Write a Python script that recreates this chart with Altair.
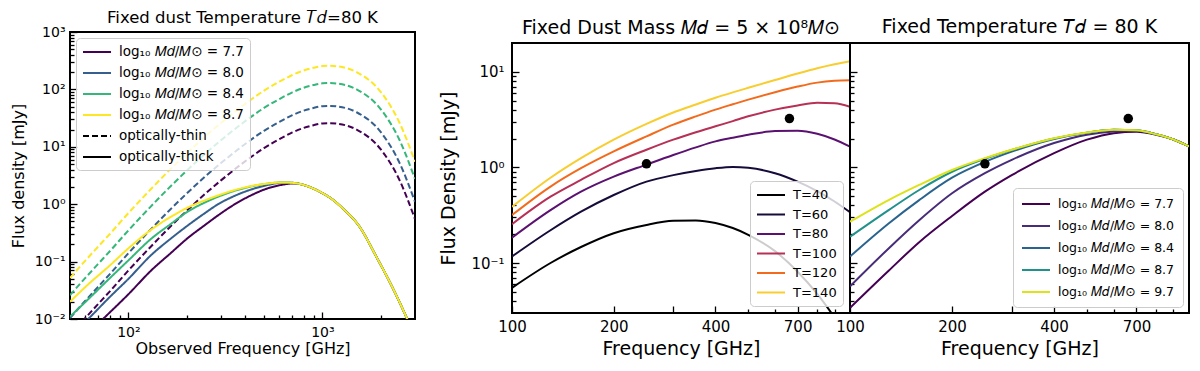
import json
import altair as alt
import pandas as pd

FONT = "DejaVu Sans"

# ---------------- Panel 1 : fixed dust temperature 80 K ----------------
P1_MASSES = ["7.7", "8.0", "8.4", "8.7"]
P1_COLORS = ["#440154", "#355f8d", "#35b779", "#fde725"]
P1_STYLE_NAMES = ["optically-thin", "optically-thick"]

THIN_FREQ = [50, 60, 70, 80, 100, 130, 160, 200, 250, 300, 400, 500, 600, 700, 800, 900,
             1000, 1100, 1200, 1500, 2000, 2500, 3000]
THIN_77 = [0.0052, 0.0104, 0.0184, 0.030, 0.070, 0.18, 0.37, 0.77, 1.54, 2.6, 5.6, 9.5, 13.6,
           17.8, 21.3, 23.8, 25.5, 25.8, 25.2, 20.0, 9.0, 2.6, 0.55]
THIN_80 = [0.0104, 0.0208, 0.0368, 0.060, 0.14, 0.36, 0.74, 1.54, 3.08, 5.2, 11.2, 19.0, 27.2,
           35.6, 42.6, 47.6, 51.0, 51.6, 50.4, 40.0, 18.0, 5.2, 1.1]
THIN_84 = [0.026, 0.052, 0.092, 0.15, 0.35, 0.90, 1.85, 3.85, 7.7, 13.0, 28.0, 47.5, 68.0,
           89.0, 106.5, 119.0, 127.5, 129.0, 126.0, 100.0, 45.0, 13.0, 2.75]
THIN_87 = [0.052, 0.104, 0.184, 0.30, 0.70, 1.80, 3.7, 7.7, 15.4, 26.0, 56.0, 95.0, 136.0,
           178.0, 213.0, 238.0, 255.0, 258.0, 252.0, 200.0, 90.0, 26.0, 5.5]

THICK_FREQ_77 = [65, 74, 100, 131, 165, 203, 245, 290, 350, 433, 520, 620, 700, 780, 850, 1000,
                 1130, 1270, 1550, 1900, 2300, 2700, 2900]
THICK_77 = [0.0065, 0.010, 0.027, 0.070, 0.14, 0.26, 0.42, 0.64, 0.98, 1.45, 1.88, 2.18, 2.30,
            2.22, 2.02, 1.56, 1.20, 0.85, 0.41, 0.12, 0.035, 0.011, 0.0063]
THICK_FREQ_80 = [55, 62, 80, 100, 131, 165, 203, 245, 290, 350, 433, 520, 620, 700, 780, 850,
                 1000, 1130, 1270, 1550, 1900, 2300, 2700, 2900]
THICK_80 = [0.0068, 0.010, 0.024, 0.050, 0.13, 0.25, 0.43, 0.68, 1.0, 1.38, 1.82, 2.15, 2.37,
            2.36, 2.22, 2.02, 1.56, 1.20, 0.85, 0.41, 0.12, 0.035, 0.011, 0.0063]
THICK_FREQ_HI = [50, 62, 80, 100, 131, 165, 203, 245, 290, 350, 433, 520, 620, 700, 780, 850,
                 1000, 1130, 1270, 1550, 1900, 2300, 2700, 2900]
THICK_84 = [0.011, 0.022, 0.051, 0.105, 0.25, 0.45, 0.75, 1.05, 1.35, 1.70, 2.05, 2.28, 2.40,
            2.36, 2.22, 2.02, 1.56, 1.20, 0.85, 0.41, 0.12, 0.035, 0.011, 0.0063]
THICK_87 = [0.020, 0.040, 0.085, 0.17, 0.36, 0.60, 0.88, 1.15, 1.42, 1.75, 2.08, 2.29, 2.40,
            2.36, 2.22, 2.02, 1.56, 1.20, 0.85, 0.41, 0.12, 0.035, 0.011, 0.0063]

# ---------------- Panel 2 : fixed dust mass ----------------
P2_TEMPS = ["T=40", "T=60", "T=80", "T=100", "T=120", "T=140"]
P2_COLORS = ["#000004", "#160b39", "#5a1170", "#b73055", "#f26b1d", "#f8cd2f"]
FREQ2 = [100, 130, 160, 200, 250, 300, 350, 400, 450, 500, 600, 700, 800, 900, 1000]
T40 = [0.055, 0.10, 0.147, 0.205, 0.25, 0.276, 0.279, 0.262, 0.232, 0.197, 0.133, 0.081,
       0.0475, 0.027, 0.0157]
T60 = [0.117, 0.22, 0.344, 0.514, 0.71, 0.83, 0.917, 0.98, 1.01, 0.99, 0.87, 0.71, 0.565,
       0.44, 0.34]
T80 = [0.184, 0.357, 0.557, 0.80, 1.07, 1.35, 1.62, 1.87, 2.04, 2.19, 2.40, 2.42, 2.25, 1.96,
       1.65]
T100 = [0.255, 0.494, 0.74, 1.11, 1.53, 1.95, 2.33, 2.69, 3.05, 3.42, 4.02, 4.45, 4.75, 4.68,
        4.3]
T120 = [0.317, 0.63, 0.98, 1.47, 2.11, 2.8, 3.42, 4.02, 4.57, 5.11, 6.11, 7.0, 7.7, 8.05, 8.15]
T140 = [0.387, 0.78, 1.25, 1.95, 2.85, 3.75, 4.55, 5.35, 6.09, 6.8, 8.2, 9.6, 10.9, 12.0, 12.9]

# ---------------- Panel 3 : fixed temperature 80 K ----------------
P3_MASSES = ["7.7", "8.0", "8.4", "8.7", "9.7"]
P3_COLORS = ["#440154", "#472c7a", "#2a648e", "#21918c", "#dde318"]
FREQ3 = [100, 130, 160, 200, 250, 300, 400, 500, 600, 700, 800, 900, 1000]
M77 = [0.034, 0.083, 0.165, 0.31, 0.557, 0.83, 1.41, 1.95, 2.28, 2.36, 2.20, 1.96, 1.66]
M80 = [0.057, 0.142, 0.28, 0.536, 0.87, 1.2, 1.80, 2.2, 2.38, 2.42, 2.22, 1.96, 1.66]
M84 = [0.117, 0.259, 0.455, 0.78, 1.14, 1.46, 1.98, 2.30, 2.47, 2.44, 2.22, 1.96, 1.66]
M87 = [0.188, 0.357, 0.58, 0.90, 1.23, 1.52, 2.01, 2.31, 2.47, 2.44, 2.22, 1.96, 1.66]
M97 = [0.27, 0.455, 0.655, 0.94, 1.25, 1.53, 2.02, 2.32, 2.48, 2.44, 2.22, 1.96, 1.66]

OBS_FREQ = [250, 662]
OBS_FLUX = [1.09, 3.24]

# ---------------- axis ticks ----------------
P1_Y_MAJOR = [0.01, 0.1, 1, 10, 100, 1000]
P1_Y_LABELS = ["10⁻²", "10⁻¹", "10⁰", "10¹", "10²", "10³"]
P1_Y_TICKS = [round(m * d, 6) for d in [0.01, 0.1, 1, 10, 100] for m in range(1, 10)] + [1000]
P1_X_MAJOR = [100, 1000]
P1_X_LABELS = ["10²", "10³"]
P1_X_TICKS = [60, 70, 80, 90, 100, 200, 300, 400, 500, 600, 700, 800, 900, 1000, 2000]

P23_X_LONG = [100, 200, 300, 400, 700]
P23_X_LABEL_VALUES = [100, 200, 400, 700]
P23_X_LABELS = ["100", "200", "400", "700"]
P23_X_TICKS = [100, 200, 300, 400, 500, 600, 700, 800, 900]
P23_Y_MAJOR = [0.1, 1, 10]
P23_Y_LABELS = ["10⁻¹", "10⁰", "10¹"]
P23_Y_TICKS = [round(m * d, 6) for d in [0.01, 0.1, 1] for m in range(1, 10) if m * d >= 0.04] + [10]

MAJOR_LEN = 7
MINOR_LEN = 4


def label_expr(vals, labels):
    s = "''"
    for v, lab in zip(reversed(vals), reversed(labels)):
        s = f"datum.value == {v} ? '{lab}' : {s}"
    return s


def make_axis(ticks, long_ticks, lab_vals, lab_text, title, label_size,
              title_size, label_pad, title_pad, show_labels=True):
    # negative tick size -> ticks point into the plot (matplotlib "in" direction)
    size_expr = (f"indexof({json.dumps(long_ticks)}, datum.value) >= 0 ? "
                 f"{-MAJOR_LEN} : {-MINOR_LEN}")
    kw = dict(
        values=ticks, tickSize=alt.ExprRef(size_expr), ticks=True, domain=False, grid=False,
        labels=show_labels, labelExpr=label_expr(lab_vals, lab_text), labelFont=FONT,
        labelFontSize=label_size, labelColor="black", labelPadding=label_pad + MAJOR_LEN,
        labelOverlap=False, labelFlush=False,
        titleFont=FONT, titleFontSize=title_size, titleFontWeight="normal",
        titleColor="black", titlePadding=title_pad, tickColor="black", tickWidth=1.3,
    )
    kw["title"] = title
    return alt.Axis(**kw)


def rows(freqs, vals, key, name):
    return [{"f": f, "v": v, key: name} for f, v in zip(freqs, vals)]


LINE_SYMBOL = "M-1,0L3,0"   # a 28 px stroke whose row height stays 14 px


def legend(orient, size, row_pad, pad, offset, label_offset):
    return alt.Legend(title=None, orient=orient, offset=offset,
                      fillColor="rgba(255,255,255,0.8)", strokeColor="#cccccc",
                      cornerRadius=4, padding=pad, labelFont=FONT, labelFontSize=size,
                      labelColor="black", symbolType=LINE_SYMBOL, symbolSize=196,
                      symbolStrokeWidth=2, rowPadding=row_pad, labelOffset=label_offset,
                      labelLimit=400)


def mass_label(m):
    return "log₁₀ 𝑀𝑑/𝑀⊙ = " + m


def title(text, size, offset):
    return alt.TitleParams(text=text, font=FONT, fontSize=size, fontWeight="normal",
                           color="black", offset=offset, anchor="middle", frame="group")


# ---------- panel 1 ----------
lab1 = [mass_label(m) for m in P1_MASSES]
thin_rows, thick_rows = [], []
for lab, vals in zip(lab1, [THIN_77, THIN_80, THIN_84, THIN_87]):
    thin_rows += rows(THIN_FREQ, vals, "leg", lab)
for lab, fr, vals in zip(lab1, [THICK_FREQ_77, THICK_FREQ_80, THICK_FREQ_HI, THICK_FREQ_HI],
                         [THICK_77, THICK_80, THICK_84, THICK_87]):
    thick_rows += rows(fr, vals, "leg", lab)
df_thin = pd.DataFrame(thin_rows)
df_thick = pd.DataFrame(thick_rows)

dom1 = lab1 + P1_STYLE_NAMES
col1 = alt.Scale(domain=dom1, range=P1_COLORS + ["black", "black"])
dash1 = alt.Scale(domain=dom1, range=[[1, 0]] * 4 + [[6, 3], [1, 0]])
leg1 = legend("top-left", 13.5, 6, 6, 6, 21)

ax1x = make_axis(P1_X_TICKS, P1_X_MAJOR, P1_X_MAJOR, P1_X_LABELS,
                 "Observed Frequency [GHz]", 14, 16, 6, -2)
ax1y = make_axis(P1_Y_TICKS, P1_Y_MAJOR, P1_Y_MAJOR, P1_Y_LABELS,
                 "Flux density [mJy]", 14, 16, 5, 8)
x1 = alt.X("f:Q", scale=alt.Scale(type="log", domain=[50, 3000], nice=False), axis=ax1x)
y1 = alt.Y("v:Q", scale=alt.Scale(type="log", domain=[0.01, 1000], nice=False), axis=ax1y)

thin_layer = alt.Chart(df_thin).mark_line(
    clip=True, strokeWidth=2, strokeDash=[6, 3], interpolate="monotone"
).encode(x=x1, y=y1, color=alt.Color("leg:N", scale=col1, legend=leg1), detail="leg:N")
thick_layer = alt.Chart(df_thick).mark_line(
    clip=True, strokeWidth=2, interpolate="monotone"
).encode(x=x1, y=y1, color=alt.Color("leg:N", scale=col1, legend=leg1),
         strokeDash=alt.StrokeDash("leg:N", scale=dash1, legend=leg1))

p1 = alt.layer(thin_layer, thick_layer).properties(
    width=345, height=287, title=title("Fixed dust Temperature 𝑇𝑑=80 K", 16.5, -1))

# ---------- panel 2 ----------
p2_rows = []
for lab, vals in zip(P2_TEMPS, [T40, T60, T80, T100, T120, T140]):
    p2_rows += rows(FREQ2, vals, "temp", lab)
df2 = pd.DataFrame(p2_rows)
df_obs = pd.DataFrame({"f": OBS_FREQ, "v": OBS_FLUX})

ax2x = make_axis(P23_X_TICKS, P23_X_LONG, P23_X_LABEL_VALUES, P23_X_LABELS,
                 "Frequency [GHz]", 15, 19, 6, 2)
ax2y = make_axis(P23_Y_TICKS, P23_Y_MAJOR, P23_Y_MAJOR, P23_Y_LABELS,
                 "Flux Density [mJy]", 15, 19, 8, 12)
xs23 = alt.Scale(type="log", domain=[100, 1000], nice=False)
ys23 = alt.Scale(type="log", domain=[0.03, 20], nice=False)
x2 = alt.X("f:Q", scale=xs23, axis=ax2x)
y2 = alt.Y("v:Q", scale=ys23, axis=ax2y)

lines2 = alt.Chart(df2).mark_line(clip=True, strokeWidth=2, interpolate="monotone").encode(
    x=x2, y=y2,
    color=alt.Color("temp:N", scale=alt.Scale(domain=P2_TEMPS, range=P2_COLORS),
                    legend=legend("bottom-right", 13, 4.5, 6, 7, 21)))
pts2 = alt.Chart(df_obs).mark_circle(size=90, color="black", opacity=1).encode(x=x2, y=y2)
p2 = alt.layer(lines2, pts2).properties(
    width=338, height=270, title=title("Fixed Dust Mass 𝑀𝑑 = 5 × 10⁸𝑀⊙", 19, 5))

# ---------- panel 3 ----------
lab3 = [mass_label(m) for m in P3_MASSES]
p3_rows = []
for lab, vals in zip(lab3, [M77, M80, M84, M87, M97]):
    p3_rows += rows(FREQ3, vals, "mass", lab)
df3 = pd.DataFrame(p3_rows)

ax3x = make_axis(P23_X_TICKS, P23_X_LONG, P23_X_LABEL_VALUES, P23_X_LABELS,
                 "Frequency [GHz]", 15, 19, 6, 2)
ax3y = make_axis(P23_Y_TICKS, P23_Y_MAJOR, P23_Y_MAJOR, P23_Y_LABELS,
                 None, 15, 19, 8, 9, show_labels=False)
x3 = alt.X("f:Q", scale=xs23, axis=ax3x)
y3 = alt.Y("v:Q", scale=ys23, axis=ax3y)
lines3 = alt.Chart(df3).mark_line(clip=True, strokeWidth=2, interpolate="monotone").encode(
    x=x3, y=y3,
    color=alt.Color("mass:N", scale=alt.Scale(domain=lab3, range=P3_COLORS),
                    legend=legend("bottom-right", 12.5, 7, 8, 6, 21)))
pts3 = alt.Chart(df_obs).mark_circle(size=90, color="black", opacity=1).encode(x=x3, y=y3)
p3 = alt.layer(lines3, pts3).properties(
    width=339, height=270, title=title("Fixed Temperature 𝑇𝑑 = 80 K", 19, 6))

# invisible strip that lowers the two right-hand panels by 11 px
spacer = alt.Chart(pd.DataFrame({"s": [0]})).mark_point(opacity=0).properties(
    width=677, height=11, view=alt.ViewConfig(stroke="transparent"))

pair = alt.hconcat(p2, p3, spacing=0, bounds="flush").resolve_scale(color="independent")
right = alt.vconcat(spacer, pair, spacing=0, bounds="flush").resolve_scale(color="independent")
chart = alt.hconcat(p1, right, spacing=97, bounds="flush").resolve_scale(
    color="independent", strokeDash="independent"
).properties(
    padding={"left": 1, "top": 0, "right": 0, "bottom": 0}
).configure(font=FONT, background="white").configure_view(stroke="black", strokeWidth=2)

chart.save("out.html", embed_options={"renderer": "svg", "actions": False})
